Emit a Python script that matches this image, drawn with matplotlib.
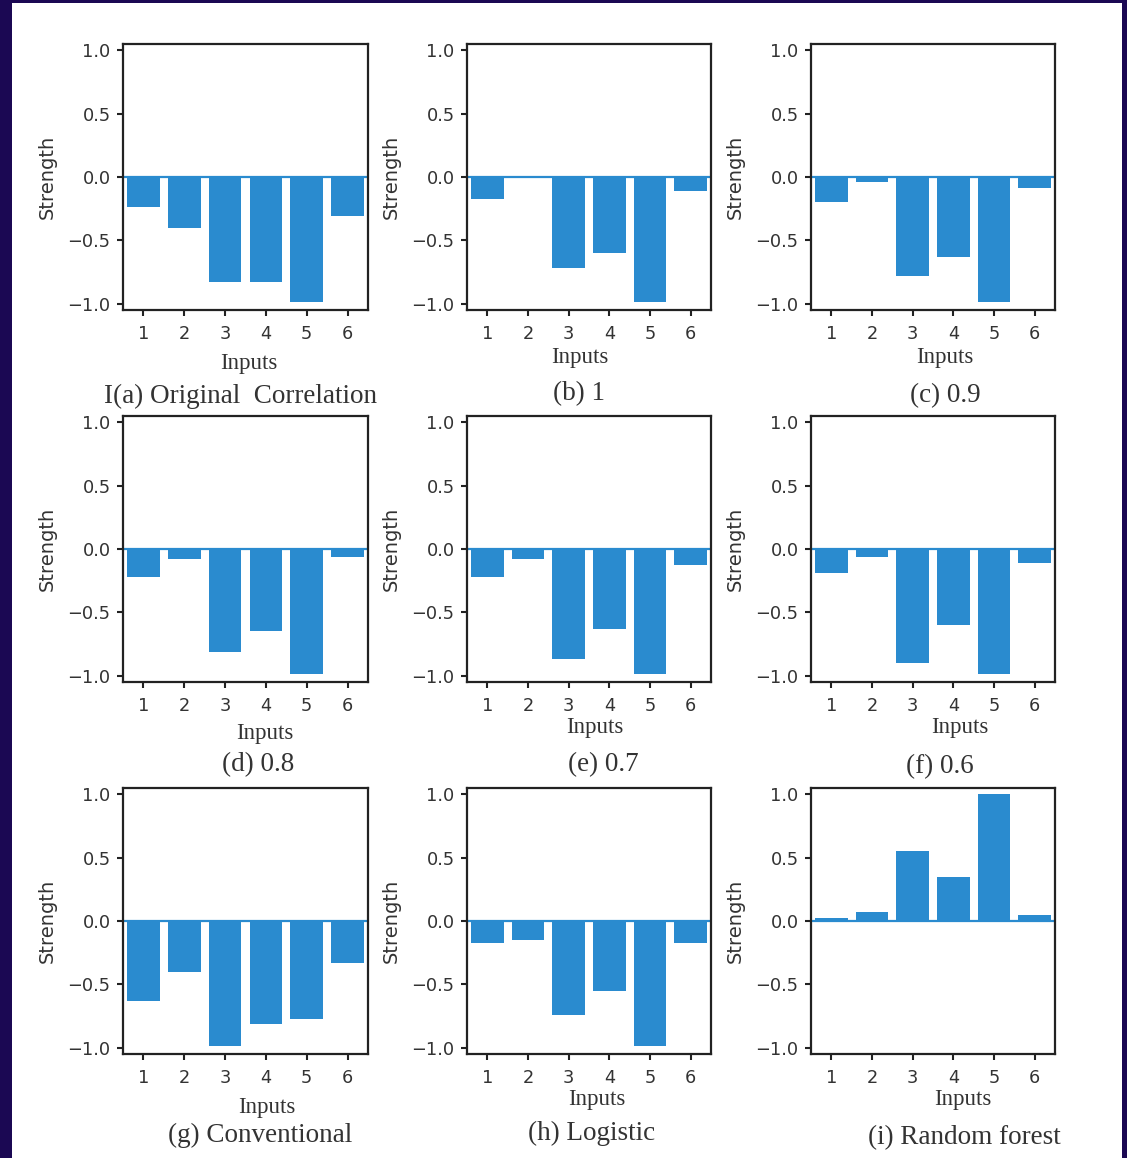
import matplotlib
matplotlib.use("Agg")
import matplotlib.pyplot as plt
from matplotlib.patches import Rectangle

# Correlation strength of each input for the nine cases
inputs = [1, 2, 3, 4, 5, 6]
original = [-0.24, -0.40, -0.83, -0.83, -0.99, -0.31]
thr_1_0 = [-0.17, -0.01, -0.715, -0.60, -0.99, -0.11]
thr_0_9 = [-0.20, -0.04, -0.785, -0.63, -0.99, -0.09]
thr_0_8 = [-0.22, -0.08, -0.81, -0.65, -0.99, -0.06]
thr_0_7 = [-0.22, -0.08, -0.87, -0.63, -0.99, -0.13]
thr_0_6 = [-0.19, -0.06, -0.90, -0.60, -0.99, -0.11]
conventional = [-0.63, -0.40, -0.99, -0.81, -0.77, -0.33]
logistic = [-0.17, -0.15, -0.74, -0.555, -0.99, -0.17]
random_forest = [0.02, 0.073, 0.55, 0.35, 1.0, 0.05]

captions = ["I(a) Original  Correlation", "(b) 1", "(c) 0.9",
            "(d) 0.8", "(e) 0.7", "(f) 0.6",
            "(g) Conventional", "(h) Logistic", "(i) Random forest"]
series = [original, thr_1_0, thr_0_9, thr_0_8, thr_0_7, thr_0_6,
          conventional, logistic, random_forest]
yticks = [-1.0, -0.5, 0.0, 0.5, 1.0]

W, H = 1127, 1158
BAR = "#2a8bcf"
NAVY = "#1b0853"

fig = plt.figure(figsize=(W / 100, H / 100), dpi=100)
fig.patch.set_facecolor(NAVY)
fig.patches.append(Rectangle((12 / W, 0), (1122 - 12) / W, (H - 3) / H,
                             transform=fig.transFigure, facecolor="white",
                             edgecolor="none", zorder=-10))

col_left = [123, 467, 811]
col_width = [245, 244, 244]
row_top = [44, 416, 788]
ax_h = 266

# label centres (pixels)
inputs_pos = [(249, 363), (580, 357), (945, 357),
              (265, 733), (595, 728), (960, 728),
              (267, 1107), (597, 1100), (963, 1100)]
caption_pos = [(240, 396), (579, 394), (945, 396),
               (258, 765), (603, 765), (940, 767),
               (260, 1135), (592, 1133), (964, 1138)]

serif = "Liberation Serif"

for i, vals in enumerate(series):
    r, c = divmod(i, 3)
    left = col_left[c] / W
    bottom = 1 - (row_top[r] + ax_h) / H
    ax = fig.add_axes([left, bottom, col_width[c] / W, ax_h / H])
    ax.bar(inputs, vals, width=0.8, color=BAR, zorder=2)
    ax.axhline(0, color=BAR, lw=1.6, zorder=2)
    ax.set_xlim(0.5, 6.5)
    ax.set_ylim(-1.05, 1.05)
    ax.set_xticks(inputs)
    ax.set_yticks(yticks)
    ax.set_yticklabels([f"{t:.1f}".replace("-", "\u2212") for t in yticks])
    for s in ax.spines.values():
        s.set_linewidth(1.6)
        s.set_color("#222222")
    ax.tick_params(axis="both", length=4.5, width=1.5, color="#222222",
                   labelsize=12.8, labelcolor="#333333")
    ax.tick_params(axis="x", pad=6)
    ax.tick_params(axis="y", pad=4.5)
    ax.set_ylabel("Strength", fontsize=14, color="#333333", va="center")
    ax.yaxis.set_label_coords(-76 / col_width[c], 0.5)

    ix, iy = inputs_pos[i]
    fig.text(ix / W, 1 - iy / H, "Inputs", family=serif, fontsize=16.5,
             ha="center", va="center", color="#333333")
    cx, cy = caption_pos[i]
    fig.text(cx / W, 1 - cy / H, captions[i], family=serif, fontsize=19.5,
             ha="center", va="center", color="#333333")

fig.savefig("out.png", dpi=100, facecolor=fig.get_facecolor())
